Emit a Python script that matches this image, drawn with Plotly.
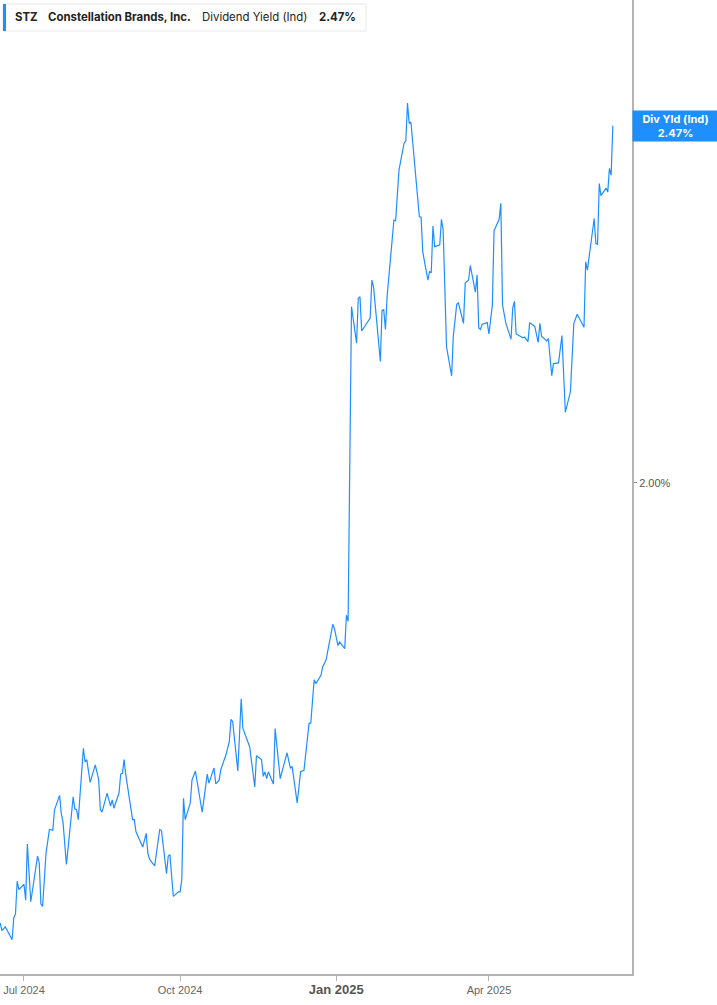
import plotly.graph_objects as go

# ---- data ----
dates = [
    "2024-06-17", "2024-06-18", "2024-06-20", "2024-06-24", "2024-06-25", "2024-06-26", "2024-06-27", "2024-06-28",
    "2024-07-01", "2024-07-02", "2024-07-03", "2024-07-05", "2024-07-09", "2024-07-10", "2024-07-11", "2024-07-12",
    "2024-07-14", "2024-07-16", "2024-07-18", "2024-07-19", "2024-07-22", "2024-07-23", "2024-07-24", "2024-07-26",
    "2024-07-30", "2024-07-31", "2024-08-01", "2024-08-02", "2024-08-05", "2024-08-06", "2024-08-07", "2024-08-09",
    "2024-08-12", "2024-08-14", "2024-08-15", "2024-08-16", "2024-08-19", "2024-08-21", "2024-08-22", "2024-08-23",
    "2024-08-26", "2024-08-27", "2024-08-28", "2024-08-29", "2024-08-30", "2024-09-03", "2024-09-04", "2024-09-05",
    "2024-09-09", "2024-09-11", "2024-09-12", "2024-09-13", "2024-09-16", "2024-09-19", "2024-09-20", "2024-09-23",
    "2024-09-24", "2024-09-25", "2024-09-27", "2024-09-30", "2024-10-01", "2024-10-02", "2024-10-03", "2024-10-04",
    "2024-10-07", "2024-10-08", "2024-10-10", "2024-10-14", "2024-10-15", "2024-10-17", "2024-10-18", "2024-10-21",
    "2024-10-22", "2024-10-24", "2024-10-25", "2024-10-28", "2024-10-30", "2024-10-31", "2024-11-01", "2024-11-04",
    "2024-11-06", "2024-11-07", "2024-11-11", "2024-11-14", "2024-11-15", "2024-11-18", "2024-11-19", "2024-11-20",
    "2024-11-21", "2024-11-22", "2024-11-25", "2024-11-26", "2024-11-29", "2024-12-03", "2024-12-05", "2024-12-06",
    "2024-12-09", "2024-12-11", "2024-12-13", "2024-12-16", "2024-12-17", "2024-12-18", "2024-12-19", "2024-12-20",
    "2024-12-23", "2024-12-24", "2024-12-26", "2024-12-30", "2024-12-31", "2025-01-02", "2025-01-03", "2025-01-06",
    "2025-01-07", "2025-01-08", "2025-01-10", "2025-01-13", "2025-01-14", "2025-01-15", "2025-01-16", "2025-01-21",
    "2025-01-22", "2025-01-23", "2025-01-27", "2025-01-28", "2025-01-29", "2025-01-30", "2025-01-31", "2025-02-04",
    "2025-02-05", "2025-02-07", "2025-02-10", "2025-02-11", "2025-02-12", "2025-02-13", "2025-02-14", "2025-02-19",
    "2025-02-20", "2025-02-21", "2025-02-24", "2025-02-25", "2025-02-26", "2025-02-27", "2025-02-28", "2025-03-03",
    "2025-03-04", "2025-03-05", "2025-03-07", "2025-03-10", "2025-03-11", "2025-03-13", "2025-03-14", "2025-03-17",
    "2025-03-18", "2025-03-20", "2025-03-21", "2025-03-24", "2025-03-25", "2025-03-26", "2025-03-27", "2025-03-28",
    "2025-03-31", "2025-04-01", "2025-04-03", "2025-04-04", "2025-04-07", "2025-04-08", "2025-04-09", "2025-04-11",
    "2025-04-14", "2025-04-15", "2025-04-16", "2025-04-17", "2025-04-21", "2025-04-22", "2025-04-24", "2025-04-25",
    "2025-04-28", "2025-04-30", "2025-05-01", "2025-05-02", "2025-05-05", "2025-05-06", "2025-05-08", "2025-05-09",
    "2025-05-12", "2025-05-14", "2025-05-16", "2025-05-19", "2025-05-21", "2025-05-23", "2025-05-27", "2025-05-28",
    "2025-05-29", "2025-06-02", "2025-06-03", "2025-06-04", "2025-06-05", "2025-06-06", "2025-06-09", "2025-06-10",
    "2025-06-11", "2025-06-12", "2025-06-13",
]
div_yield = [
    1.421, 1.411, 1.416, 1.399, 1.428, 1.433, 1.476, 1.465,
    1.472, 1.451, 1.525, 1.449, 1.509, 1.500, 1.446, 1.443,
    1.513, 1.544, 1.543, 1.570, 1.589, 1.565, 1.554, 1.498,
    1.587, 1.571, 1.570, 1.557, 1.651, 1.633, 1.636, 1.606,
    1.629, 1.610, 1.570, 1.567, 1.592, 1.575, 1.583, 1.572,
    1.592, 1.617, 1.618, 1.636, 1.616, 1.557, 1.557, 1.541,
    1.521, 1.539, 1.513, 1.505, 1.496, 1.544, 1.543, 1.486,
    1.509, 1.511, 1.456, 1.462, 1.462, 1.478, 1.585, 1.557,
    1.579, 1.609, 1.621, 1.567, 1.583, 1.617, 1.605, 1.625,
    1.604, 1.609, 1.623, 1.642, 1.660, 1.689, 1.686, 1.621,
    1.716, 1.677, 1.653, 1.600, 1.641, 1.636, 1.614, 1.620,
    1.611, 1.620, 1.604, 1.677, 1.611, 1.645, 1.625, 1.627,
    1.579, 1.620, 1.622, 1.684, 1.684, 1.715, 1.741, 1.736,
    1.747, 1.758, 1.767, 1.814, 1.808, 1.786, 1.791, 1.782,
    1.826, 1.818, 2.232, 2.184, 2.243, 2.245, 2.200, 2.217,
    2.267, 2.258, 2.160, 2.227, 2.228, 2.202, 2.246, 2.346,
    2.345, 2.412, 2.447, 2.450, 2.500, 2.473, 2.475, 2.350,
    2.350, 2.304, 2.267, 2.278, 2.277, 2.338, 2.311, 2.313,
    2.347, 2.333, 2.179, 2.141, 2.193, 2.235, 2.237, 2.210,
    2.263, 2.267, 2.286, 2.251, 2.274, 2.204, 2.202, 2.209,
    2.211, 2.196, 2.234, 2.332, 2.347, 2.368, 2.234, 2.210,
    2.189, 2.230, 2.239, 2.196, 2.191, 2.192, 2.186, 2.211,
    2.206, 2.185, 2.210, 2.193, 2.187, 2.190, 2.141, 2.157,
    2.158, 2.194, 2.093, 2.120, 2.210, 2.222, 2.205, 2.291,
    2.280, 2.348, 2.315, 2.314, 2.394, 2.378, 2.388, 2.383,
    2.414, 2.405, 2.470,
]

x_tick_vals = ["2024-07-01", "2024-10-01", "2025-01-01", "2025-04-01"]
x_tick_text = ["Jul 2024", "Oct 2024",
               "<b><span style='font-size:13px;color:#555'>Jan 2025</span></b>", "Apr 2025"]
y_tick_vals = [2.0]
y_tick_text = ["2.00%"]

ticker = "STZ"
company = "Constellation Brands, Inc."
metric = "Dividend Yield (Ind)"
last_label = "2.47%"
badge_title = "Div Yld (Ind)"

LINE_BLUE = "#1e8fff"
AXIS_GRAY = "#b4b4b4"
FONT = "Inter, Roboto, 'Liberation Sans', sans-serif"
TICK_FONT = "'Liberation Sans', Arial, sans-serif"

fig = go.Figure()
fig.add_trace(go.Scatter(
    x=dates, y=div_yield, mode="lines",
    line=dict(color=LINE_BLUE, width=1.2),
    hoverinfo="x+y", showlegend=False,
))

fig.update_layout(
    width=717, height=1005,
    margin=dict(l=0, r=85, t=0, b=31),
    paper_bgcolor="white", plot_bgcolor="white",
    showlegend=False,
    xaxis=dict(
        type="date",
        range=["2024-06-16 21:00", "2025-06-24 07:00"],
        tickvals=x_tick_vals, ticktext=x_tick_text,
        ticks="outside", ticklen=5, tickcolor=AXIS_GRAY, tickwidth=1,
        showline=True, linecolor=AXIS_GRAY, linewidth=2,
        showgrid=False, zeroline=False,
        tickfont=dict(family=TICK_FONT, size=11, color="#666"),
    ),
    yaxis=dict(
        side="right",
        range=[1.3539, 2.6355],
        tickvals=y_tick_vals, ticktext=y_tick_text,
        ticks="outside", ticklen=3, tickcolor="#888", tickwidth=1,
        showline=True, linecolor=AXIS_GRAY, linewidth=2,
        showgrid=False, zeroline=False,
        tickfont=dict(family=TICK_FONT, size=11, color="#555"),
    ),
)

# legend-like header box
fig.add_shape(type="rect", xref="paper", yref="paper",
              x0=3 / 632, x1=366 / 632, y0=1 - 31 / 974, y1=1 - 4 / 974,
              line=dict(color="#e8e8e8", width=1), fillcolor="white", layer="above")
fig.add_shape(type="rect", xref="paper", yref="paper",
              x0=3 / 632, x1=6 / 632, y0=1 - 31 / 974, y1=1 - 4 / 974,
              line=dict(width=0), fillcolor=LINE_BLUE, layer="above")

header_parts = [
    (13, "<b>" + ticker + "</b>"),
    (46, "<b>" + company + "</b>"),
    (200, metric),
    (317, "<b>" + last_label + "</b>"),
]
for px, txt in header_parts:
    fig.add_annotation(xref="paper", yref="paper", x=px / 632, y=1 - 17.5 / 974,
                       xanchor="left", yanchor="middle", showarrow=False,
                       text=txt, font=dict(family=FONT, size=11.4, color="#222"))

# right-side value badge
fig.add_annotation(xref="paper", yref="y", x=1, y=div_yield[-1],
                   xanchor="left", yanchor="middle", showarrow=False,
                   text="<b>" + badge_title + "<br>" + last_label + "</b>",
                   font=dict(family=FONT, size=11, color="white"),
                   bgcolor=LINE_BLUE, width=85, height=30, borderpad=0,
                   align="center")

fig.write_html("out.html", config={"displayModeBar": False},
               post_script="document.body.style.margin='0';document.body.style.padding='0';")
